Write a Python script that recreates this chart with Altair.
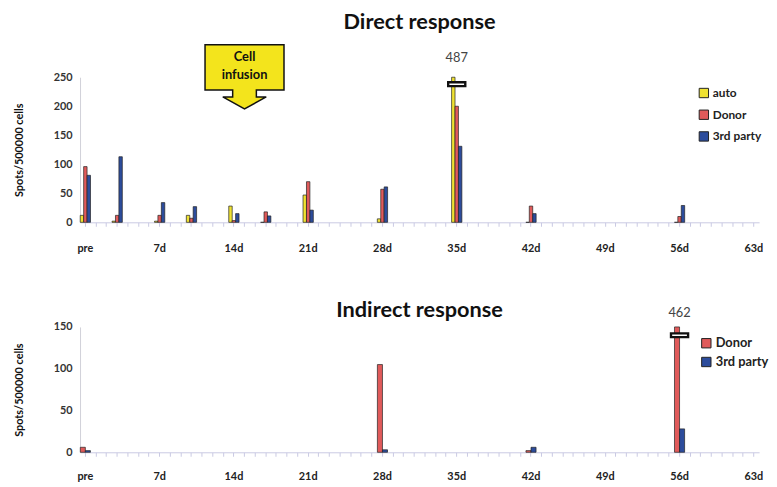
import altair as alt
import pandas as pd

# ---- data ----
days_all = list(range(64))

direct_days = [0, 3, 7, 10, 14, 17, 21, 28, 35, 42, 56]
direct_auto = [12, 2, 2, 12, 28, 0, 47, 6, 487, 0, 0]
direct_donor = [96, 12, 12, 7, 3, 18, 70, 57, 200, 28, 10]
direct_third = [81, 113, 34, 27, 15, 11, 21, 61, 131, 15, 29]

indirect_days = [0, 28, 42, 56]
indirect_donor = [6, 105, 2, 462]
indirect_third = [2, 3, 6, 28]

series_direct = ["auto", "Donor", "3rd party"]
series_indirect = ["Donor", "3rd party"]
colors_direct = ["#efe232", "#e05a5a", "#2c4c9c"]
colors_indirect = ["#e05a5a", "#2c4c9c"]

direct_ticks = [0, 50, 100, 150, 200, 250]
indirect_ticks = [0, 50, 100, 150]

# annotations
infusion_day = [15]
infusion_text = [["Cell", "infusion"]]
direct_break_day = [35]
direct_break_value = [238]
direct_peak_label = ["487"]
indirect_break_day = [56]
indirect_break_value = [140]
indirect_peak_label = ["462"]

FONT = "Lato"
W = 688

def long_df(days, cols):
    rows = []
    for name, vals in cols.items():
        for d, v in zip(days, vals):
            rows.append({"day": d, "series": name, "value": v})
    return pd.DataFrame(rows)

df_direct = long_df(direct_days, {"auto": direct_auto, "Donor": direct_donor, "3rd party": direct_third})
df_indirect = long_df(indirect_days, {"Donor": indirect_donor, "3rd party": indirect_third})

label_expr = "datum.value == 0 ? 'pre' : (datum.value % 7 == 0 ? datum.value + 'd' : '')"

def x_axis(pad):
    return alt.Axis(title=None, labelExpr=label_expr, labelAngle=0,
                    labelFont=FONT, labelFontWeight="bold", labelFontSize=11,
                    labelColor="#222", labelPadding=pad,
                    domainColor="#c9c9e3", tickColor="#c9c9e3", tickSize=4,
                    grid=False)

X_SCALE = alt.Scale(domain=days_all, paddingInner=0, paddingOuter=0)

def y_axis(ticks):
    return alt.Axis(title="Spots/500000 cells", values=ticks, labelOverlap=False,
                    titleFont=FONT, titleFontWeight="bold", titleFontSize=11,
                    titleColor="#111", titlePadding=29,
                    labelFont=FONT, labelFontWeight="bold", labelFontSize=11,
                    labelColor="#333", ticks=False, domainColor="#d0d0d8",
                    grid=False, labelPadding=8)

def y_scale(maxv):
    return alt.Scale(domain=[0, maxv], clamp=True, nice=False)

def xe(pad):
    return alt.X("day:O", scale=X_SCALE, axis=x_axis(pad))

def ye(maxv, ticks):
    return alt.Y("value:Q", scale=y_scale(maxv), axis=y_axis(ticks))

def yd(v, maxv, ticks):
    return alt.Y(datum=v, type="quantitative", scale=y_scale(maxv), axis=y_axis(ticks))

break_shape = "M -1 -0.22 L 1 -0.22 L 1 0.22 L -1 0.22 Z"
callout_shape = ("M -1 -0.825 L 1 -0.825 L 1 0.325 L 0.3 0.325 L 0.3 0.5 L 0.55 0.5 "
                 "L 0 0.8 L -0.55 0.5 L -0.3 0.5 L -0.3 0.325 L -1 0.325 Z")

TP = 17  # top x label padding
BP = 15  # bottom x label padding

# ---- top chart ----
bars_top = alt.Chart(df_direct).mark_bar(stroke="#222", strokeWidth=0.7).encode(
    x=xe(TP),
    y=ye(250, direct_ticks),
    xOffset=alt.XOffset("series:N", sort=series_direct,
                        scale=alt.Scale(domain=series_direct, paddingInner=0, paddingOuter=0.05)),
    color=alt.Color("series:N", sort=series_direct,
                    scale=alt.Scale(domain=series_direct, range=colors_direct),
                    title=None,
                    legend=alt.Legend(orient="none", legendX=626, legendY=10,
                                      symbolType="square", symbolSize=90,
                                      symbolStrokeColor="#222", symbolStrokeWidth=1,
                                      labelFont=FONT, labelFontWeight="bold", labelFontSize=12,
                                      labelColor="#222", rowPadding=8, labelOffset=3)),
)

ann_top = pd.DataFrame({"day": infusion_day, "value": [250], "text": infusion_text})
callout = alt.Chart(ann_top).mark_point(shape=callout_shape, size=6400, filled=True,
                                        fill="#f3e41c", stroke="#111", strokeWidth=1.5,
                                        opacity=1, clip=False).encode(
    x=xe(TP), y=ye(250, direct_ticks))
callout_text = alt.Chart(ann_top).mark_text(font=FONT, fontWeight="bold", fontSize=13,
                                            color="#111", lineHeight=18, dy=-20,
                                            baseline="middle", clip=False).encode(
    x=xe(TP), y=ye(250, direct_ticks), text="text")

brk_top = pd.DataFrame({"day": direct_break_day, "value": direct_break_value, "label": direct_peak_label})
break_top = alt.Chart(brk_top).mark_point(shape=break_shape, size=300, filled=True,
                                          fill="#ffffff", stroke="#111", strokeWidth=2.4,
                                          opacity=1).encode(x=xe(TP), y=ye(250, direct_ticks))
peak_top = alt.Chart(brk_top).mark_text(font=FONT, fontSize=13, color="#444", dy=-19,
                                        clip=False).encode(
    x=xe(TP), y=yd(250, 250, direct_ticks), text="label")

top = alt.layer(bars_top, break_top, peak_top, callout, callout_text).properties(
    width=W, height=147,
    title=alt.TitleParams("Direct response", font=FONT, fontSize=22, fontWeight="bold",
                          color="#111", anchor="middle", offset=8))

# ---- bottom chart ----
bars_bot = alt.Chart(df_indirect).mark_bar(stroke="#222", strokeWidth=0.7).encode(
    x=xe(BP),
    y=ye(150, indirect_ticks),
    xOffset=alt.XOffset("series:N", sort=series_indirect,
                        scale=alt.Scale(domain=series_indirect, paddingInner=0, paddingOuter=0.05)),
    color=alt.Color("series:N", sort=series_indirect,
                    scale=alt.Scale(domain=series_indirect, range=colors_indirect),
                    title=None,
                    legend=alt.Legend(orient="none", legendX=628, legendY=10,
                                      symbolType="square", symbolSize=90,
                                      symbolStrokeColor="#222", symbolStrokeWidth=1,
                                      labelFont=FONT, labelFontWeight="bold", labelFontSize=13,
                                      labelColor="#222", rowPadding=4, labelOffset=3)),
)

brk_bot = pd.DataFrame({"day": indirect_break_day, "value": indirect_break_value, "label": indirect_peak_label})
break_bot = alt.Chart(brk_bot).mark_point(shape=break_shape, size=300, filled=True,
                                          fill="#ffffff", stroke="#111", strokeWidth=2.4,
                                          opacity=1).encode(x=xe(BP), y=ye(150, indirect_ticks))
peak_bot = alt.Chart(brk_bot).mark_text(font=FONT, fontSize=13, color="#444", dy=-14,
                                        clip=False).encode(
    x=xe(BP), y=yd(150, 150, indirect_ticks), text="label")

bottom = alt.layer(bars_bot, break_bot, peak_bot).properties(
    width=W, height=127,
    title=alt.TitleParams("Indirect response", font=FONT, fontSize=22, fontWeight="bold",
                          color="#111", anchor="middle", offset=-15))

chart = alt.vconcat(top, bottom, spacing=46).resolve_scale(
    color="independent", xOffset="independent", y="independent"
).resolve_legend(color="independent").properties(
    padding={"left": 5, "top": 0, "right": 0, "bottom": 0}
).configure(background="white").configure_view(stroke=None).configure_axisY(labelOverlap=False)

chart.save("out.html", embed_options={"renderer": "svg", "actions": False})
